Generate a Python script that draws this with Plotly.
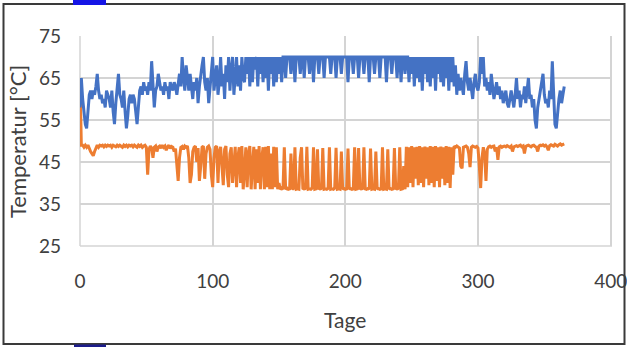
import plotly.graph_objects as go

# ---- data ----
blue_temp = [
    58, 65, 60, 57, 54, 53, 58, 61, 62, 60,
    62, 61, 63, 66, 62, 60, 61, 59, 60, 58,
    62, 61, 60, 58, 62, 57, 54, 59, 63, 66,
    61, 60, 58, 62, 57, 53, 56, 60, 61, 59,
    61, 60, 57, 54, 58, 62, 63, 61, 64, 62,
    63, 61, 64, 62, 69, 63, 58, 62, 63, 66,
    64, 62, 63, 61, 64, 62, 63, 60, 64, 63,
    62, 64, 63, 61, 64, 66, 63, 70, 65, 62,
    68, 64, 62, 66, 63, 60, 64, 62, 65, 59,
    63, 66, 68, 70, 64, 62, 65, 59, 63, 66,
    70, 62, 65, 68, 61, 64, 70, 63, 66, 60,
    68, 64, 70, 62, 67, 70, 61, 66, 70, 63,
    68, 62, 70, 65, 64, 70, 66, 70, 63, 70,
    64, 70, 67, 70, 63, 70, 66, 70, 64, 70,
    65, 70, 62, 70, 66, 70, 63, 70, 64, 70,
    66, 70, 64, 70, 70, 65, 70, 70, 70, 66,
    70, 70, 64, 70, 70, 70, 66, 70, 70, 65,
    70, 70, 70, 66, 70, 70, 64, 70, 70, 70,
    66, 70, 70, 70, 65, 70, 70, 70, 70, 66,
    70, 70, 70, 65, 70, 70, 70, 66, 70, 70,
    70, 70, 64, 70, 70, 70, 66, 70, 70, 70,
    65, 70, 70, 70, 66, 70, 70, 70, 64, 70,
    70, 70, 66, 70, 70, 70, 65, 70, 70, 70,
    70, 64, 70, 70, 70, 66, 70, 70, 70, 65,
    70, 70, 64, 70, 70, 66, 70, 70, 64, 70,
    66, 70, 63, 70, 65, 70, 64, 70, 62, 70,
    66, 70, 64, 70, 63, 70, 65, 70, 62, 70,
    66, 70, 64, 70, 63, 70, 65, 70, 62, 70,
    64, 70, 63, 68, 61, 66, 62, 65, 63, 61,
    66, 69, 64, 62, 65, 63, 60, 64, 66, 63,
    62, 64, 70, 66, 70, 63, 65, 62, 64, 61,
    66, 63, 60, 62, 64, 61, 63, 60, 62, 59,
    61, 62, 59, 58, 60, 62, 60, 58, 61, 65,
    60, 62, 58, 61, 60, 63, 59, 62, 65, 60,
    61, 58, 60, 55, 53, 58, 60, 62, 63, 66,
    61, 59, 60, 58, 62, 60, 69, 62, 54, 53,
    57, 60, 62, 59, 61, 63,
]

orange_temp = [
    65, 49, 49, 48.5, 49, 48.5, 49, 48, 47.5, 47,
    46.5, 47.5, 48.5, 49, 48.5, 49, 48.8, 49, 48.6, 49,
    48.7, 49, 48.8, 49, 48.5, 49, 48.8, 48.6, 49, 48.7,
    49, 48.8, 48.5, 49, 48.7, 49, 48.6, 49, 48.8, 49,
    48.6, 49, 48.8, 48.5, 49, 48.7, 49, 48.5, 48.8, 49,
    48.5, 42, 48, 48.8, 48.3, 46, 48.5, 48.8, 47.5, 48.6,
    48.8, 48.3, 49, 48.5, 48.8, 47.8, 48.6, 49, 48.2, 48.7,
    48.5, 47.5, 48.2, 44, 40.5, 46, 48.5, 48.7, 48, 48.8,
    48.5, 48.8, 46, 40, 42, 47.5, 48.5, 48.8, 45, 48.3,
    40.5, 44, 48.5, 48.8, 41, 47, 48.5, 48.8, 48, 42,
    39, 46, 48.5, 48.8, 40, 47.5, 48.6, 44, 39.5, 48,
    48.8, 42, 39, 47, 48.5, 40, 44, 48.6, 39, 46,
    48.5, 40, 48.8, 38.5, 43, 48.5, 39, 47, 48.8, 38.5,
    44, 48.6, 38.5, 48, 40, 48.8, 38.5, 46, 48.5, 38.5,
    48.6, 39, 48.8, 38.5, 47, 38.5, 48.6, 39, 48.5, 38.5,
    40, 38.5, 38.8, 38.5, 48.5, 38.5, 38.8, 38.5, 38.6, 47,
    38.5, 38.7, 48.5, 38.5, 38.6, 38.5, 46, 48.5, 38.5, 38.7,
    38.5, 48.6, 38.5, 38.6, 38.5, 38.8, 48.5, 38.5, 38.6, 48,
    38.5, 38.7, 38.5, 48.3, 38.5, 38.6, 38.5, 38.7, 48.5, 38.5,
    38.6, 38.5, 38.8, 48.4, 38.5, 38.6, 38.5, 47.5, 38.5, 38.7,
    38.5, 38.6, 48.2, 38.5, 38.7, 38.5, 38.6, 48.5, 38.5, 38.6,
    48.3, 38.5, 38.7, 38.5, 48.5, 38.6, 38.5, 38.7, 38.5, 48.2,
    38.5, 38.6, 38.5, 47.5, 38.5, 38.7, 38.5, 38.6, 48.5, 38.5,
    38.6, 38.5, 48, 38.5, 38.7, 38.5, 38.6, 48.3, 38.5, 38.7,
    38.5, 48.5, 38.5, 38.6, 44, 38.5, 48.6, 39, 48.5, 40,
    48.8, 39, 48.5, 41, 48.6, 39.5, 48.8, 40, 48.5, 39,
    48.7, 41, 48.5, 39.5, 48.8, 40, 48.6, 39, 48.8, 40.5,
    48.5, 39, 48.7, 41, 48.5, 39.5, 48.8, 40, 48.6, 38.8,
    48.5, 42, 48.8, 48.5, 48.8, 48.6, 48.3, 44, 43.5, 48.5,
    48.7, 48.8, 48.5, 47, 43.8, 48.5, 48.8, 48.6, 48.5, 48.7,
    48.3, 44, 38.8, 46, 48.5, 47, 40.5, 48, 48.6, 48.8,
    48.5, 48.7, 48.8, 47.5, 48.5, 45.5, 48.6, 48.8, 48.5, 48.7,
    48.8, 48.6, 48.9, 48.7, 48.5, 48.8, 47.5, 48.6, 48.8, 48.9,
    48.7, 48.8, 49, 48.6, 48.8, 47, 48.7, 48.9, 49, 48.8,
    48.6, 48.9, 49, 48.7, 48.5, 47.5, 48.8, 49, 48.9, 49.1,
    48.8, 49, 48.6, 47.8, 48.9, 49.1, 49, 48.8, 49.2, 49,
    48.8, 49.1, 49.3, 49, 49.2, 49.3,
]

days = list(range(len(blue_temp)))

x_ticks = [0, 100, 200, 300, 400]
y_ticks = [25, 35, 45, 55, 65, 75]

FONT = "Lato"
GREY_TXT = "#404040"
GRID = "#d4d4d4"

fig = go.Figure()
fig.add_trace(go.Scatter(x=days, y=orange_temp, mode="lines",
                         line=dict(color="#ED7D31", width=3), showlegend=False))
fig.add_trace(go.Scatter(x=days, y=blue_temp, mode="lines",
                         line=dict(color="#4472C4", width=3), showlegend=False))

# pixel -> paper helpers (plot area: x 80..612, y 36..246)
L, R, T, B = 80, 612, 36, 246
def px(xp):
    return (xp - L) / (R - L)
def py(yp):
    return (B - yp) / (B - T)

fig.update_layout(
    width=627, height=347,
    margin=dict(l=L, r=627 - R, t=T, b=347 - B, autoexpand=False),
    paper_bgcolor="white", plot_bgcolor="white",
    font=dict(family=FONT, size=19, color=GREY_TXT),
    xaxis=dict(range=[0, 401], tickvals=x_ticks, showgrid=True, gridcolor=GRID,
               gridwidth=1.5, zeroline=False, showline=False, ticks="",
               ticklabelstandoff=22, ticklabeloverflow="allow",
               tickfont=dict(size=19, color=GREY_TXT)),
    yaxis=dict(range=[25, 75], tickvals=y_ticks, showgrid=True, gridcolor=GRID,
               gridwidth=1.5, zeroline=False, showline=False, ticks="",
               ticklabelstandoff=18, tickfont=dict(size=19, color=GREY_TXT)),
    annotations=[
        dict(text="Tage", xref="paper", yref="paper", x=px(345), y=py(319),
             showarrow=False, xanchor="center", yanchor="middle",
             font=dict(family=FONT, size=21, color=GREY_TXT)),
        dict(text="Temperatur [°C]", xref="paper", yref="paper", x=px(17), y=py(142),
             showarrow=False, xanchor="center", yanchor="middle", textangle=-90,
             font=dict(family=FONT, size=22, color=GREY_TXT)),
    ],
    shapes=[
        dict(type="line", xref="paper", yref="paper", x0=0, x1=0, y0=0, y1=1,
             line=dict(color=GRID, width=1.5), layer="below"),
        dict(type="line", xref="paper", yref="paper", x0=0, x1=1, y0=0, y1=0,
             line=dict(color=GRID, width=1.5), layer="below"),
        dict(type="line", xref="paper", yref="paper", x0=px(611), x1=px(611), y0=0, y1=1,
             line=dict(color=GRID, width=1.5), layer="below"),
        dict(type="rect", xref="paper", yref="paper",
             x0=px(3.5), x1=px(624.5), y0=py(344), y1=py(4),
             line=dict(color="#3a3a3a", width=2), fillcolor="rgba(0,0,0,0)"),
        dict(type="rect", xref="paper", yref="paper",
             x0=px(73), x1=px(106), y0=py(5), y1=py(0),
             line=dict(width=0), fillcolor="#1414e6"),
        dict(type="rect", xref="paper", yref="paper",
             x0=px(74), x1=px(106), y0=py(347), y1=py(344.5),
             line=dict(width=0), fillcolor="#1c1c8c"),
    ],
)

fig.write_html("out.html", config={"displayModeBar": False},
               post_script="document.body.style.margin='0';document.body.style.overflow='hidden';")
